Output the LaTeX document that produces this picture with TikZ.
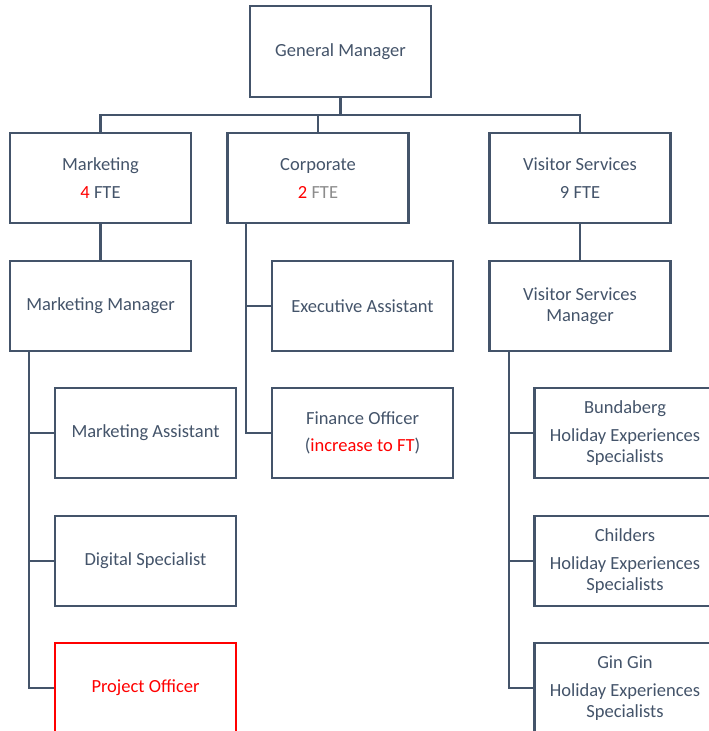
\documentclass[tikz,border=0pt]{standalone}
\usepackage{fontspec}
\setmainfont{Carlito}
\definecolor{lc}{HTML}{44546A}
\definecolor{tc}{HTML}{44546A}
\definecolor{fg}{HTML}{8C8C8C}
\definecolor{rd}{HTML}{FF0000}
\begin{document}
\begin{tikzpicture}[x=1pt,y=-1pt,
  box/.style={draw=lc, line width=2.5pt, minimum width=181pt, minimum height=90pt, inner sep=0pt,
    text=tc, font=\fontsize{18.5}{21}\selectfont, align=center, fill=white},
  conn/.style={draw=lc, line width=2.5pt}]
\useasboundingbox (0,0) rectangle (709,731);
\clip (0,0) rectangle (709,731);
\coordinate (busy) at (0,115);
\coordinate (mv) at (29,0);
\coordinate (cv) at (246,0);
\coordinate (vv) at (509,0);
\node[box, minimum height=91pt] (GM) at (340.5,51.5) {General Manager};
\node[box] (Mkt) at (100.5,178) {Marketing\\[7pt]\textcolor{rd}{4} FTE};
\node[box] (Corp) at (318,178) {Corporate\\[7pt]\textcolor{rd}{2} \textcolor{fg}{FTE}};
\node[box] (VS) at (580,178) {Visitor Services\\[7pt]9 FTE};
\node[box] (MM) at (100.5,306) {Marketing Manager};
\node[box] (EA) at (362.5,306) {Executive Assistant};
\node[box] (FO) at (362.5,433) {Finance Officer\\[6pt](\textcolor{rd}{increase to FT})};
\node[box] (VSM) at (580,306) {Visitor Services\\Manager};
\node[box] (MA) at (145.5,433) {Marketing Assistant};
\node[box] (DS) at (145.5,561) {Digital Specialist};
\node[box, draw=rd, text=rd] (PO) at (145.5,688) {Project Officer};
\node[box] (BB) at (625,433) {Bundaberg\\[7pt]Holiday Experiences\\Specialists};
\node[box] (CH) at (625,561) {Childers\\[7pt]Holiday Experiences\\Specialists};
\node[box] (GG) at (625,688) {Gin Gin\\[7pt]Holiday Experiences\\Specialists};
% connectors
\draw[conn] (GM.south) -- (GM.south |- busy);
\draw[conn] (Mkt.north) |- (VS.north |- busy) -- (VS.north);
\draw[conn] (Corp.north) -- (Corp.north |- busy);
\draw[conn] (Mkt.south) -- (MM.north);
\draw[conn] (VS.south) -- (VSM.north);
\draw[conn] (Corp.south -| cv) |- (FO.west);
\draw[conn] (cv |- EA.west) -- (EA.west);
\draw[conn] (MM.south -| mv) |- (PO.west);
\draw[conn] (mv |- MA.west) -- (MA.west);
\draw[conn] (mv |- DS.west) -- (DS.west);
\draw[conn] (VSM.south -| vv) |- (GG.west);
\draw[conn] (vv |- BB.west) -- (BB.west);
\draw[conn] (vv |- CH.west) -- (CH.west);
\end{tikzpicture}
\end{document}
